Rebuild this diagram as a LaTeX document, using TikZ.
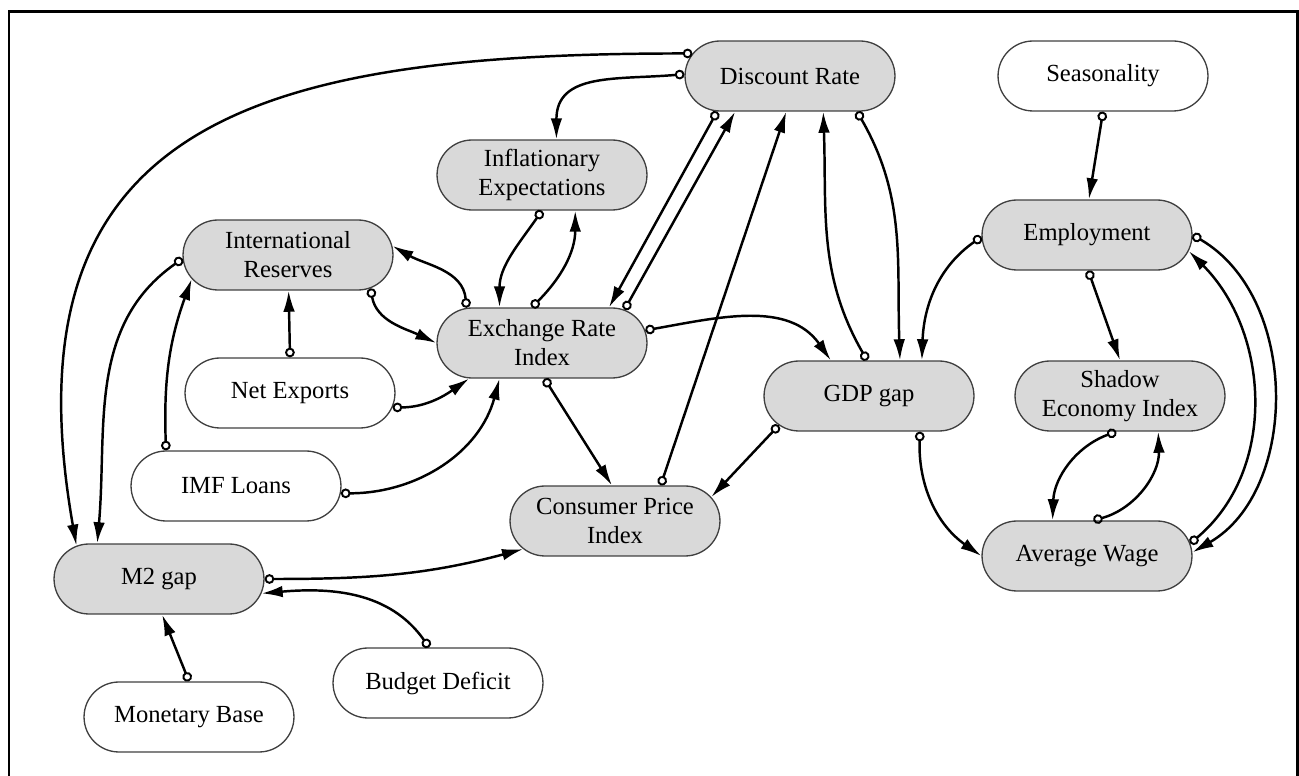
\documentclass[tikz,border=0pt]{standalone}
\usepackage{fontspec}
\setmainfont{Liberation Serif}
\usetikzlibrary{shapes.misc,arrows.meta}

\begin{document}
\begin{tikzpicture}[x=0.02cm,y=-0.02cm,
    block/.style={rounded rectangle,draw=black!75,line width=0.75pt,minimum width=4.34cm,minimum height=1.4cm,
        align=center,inner sep=2pt,font=\fontsize{14}{16.5}\selectfont},
    endo/.style={block,fill=black!15},
    exo/.style={block,fill=white},
    link/.style={{Circle[open,length=5.5pt,line width=1.1pt]}-{Latex[length=12pt,width=6.6pt]},line width=1.4pt}]
    \useasboundingbox (0,0) rectangle (1299,776);
    \draw[line width=1.7pt] (9,776) -- (9,11.5) -- (1297,11.5) -- (1297,776);

    \node[endo] (dr) at (790,76) {Discount Rate};
    \node[exo] (seas) at (1103,76) {Seasonality};
    \node[endo] (ie) at (542,175) {Inflationary\\Expectations};
    \node[endo] (ir) at (288,255) {International\\Reserves};
    \node[endo] (emp) at (1087,235) {Employment};
    \node[endo] (eri) at (542,343) {Exchange Rate\\Index};
    \node[exo] (nx) at (290,393) {Net Exports};
    \node[endo] (gdp) at (869,396) {GDP gap};
    \node[endo] (sei) at (1120,396) {Shadow\\Economy Index};
    \node[exo] (imf) at (236,486) {IMF Loans};
    \node[endo] (cpi) at (615,521) {Consumer Price\\Index};
    \node[endo] (m2) at (159,579) {M2 gap};
    \node[endo] (aw) at (1087,556) {Average Wage};
    \node[exo] (bd) at (438,683) {Budget Deficit};
    \node[exo] (mb) at (189,717) {Monetary Base};

    \draw[link] (dr.167) to[out=180,in=100,looseness=1.4] (m2.158);
    \draw[link] (dr.179) to[out=185,in=90,looseness=1.2] (ie.68);
    \draw[link] (ir.182) to[out=215,in=85] (m2.150);
    \draw[link] (imf.153) to[out=92,in=250] (ir.194);
    \draw[link] (nx.90) -- (ir.-89);
    \draw[link] (eri.155) to[out=95,in=-30] (ir.5);
    \draw[link] (ir.-22) to[out=-80,in=155] (eri.180);
    \draw[link] (nx.-8) to[out=0,in=215] (eri.206);
    \draw[link] (imf.-4) to[out=0,in=-105] (eri.220);
    \draw[link] (ie.-90) to[out=-125,in=90] (eri.140);
    \draw[link] (eri.106) to[out=45,in=-90] (ie.-47);
    \draw[link] (dr.206) -- (eri.28);
    \draw[link] (eri.22) -- (dr.213);
    \draw[link] (eri.7) to[out=10,in=125] (gdp.137);
    \draw[link] (eri.-86) -- (cpi.95);
    \draw[link] (cpi.38) -- (dr.-96);
    \draw[link] (gdp.93) to[out=120,in=-88] (dr.-47);
    \draw[link] (dr.-28) to[out=-60,in=92] (gdp.49);
    \draw[link] (emp.181) to[out=215,in=88] (gdp.34);
    \draw[link] (gdp.198) -- (cpi.14);
    \draw[link] (gdp.-35) to[out=-92,in=145] (aw.180);
    \draw[link] (seas.-90) -- (emp.87);
    \draw[link] (emp.-88) -- (sei.90);
    \draw[link] (sei.-96) to[out=200,in=88] (aw.134);
    \draw[link] (aw.80) to[out=15,in=-88] (sei.-43);
    \draw[link] (emp.0) to[out=-30,in=30] (aw.2);
    \draw[link] (aw.7) to[out=40,in=-45] (emp.-9);
    \draw[link] (m2.0) to[out=0,in=195] (cpi.197);
    \draw[link] (bd.104) to[out=125,in=5] (m2.-8);
    \draw[link] (mb.90) -- (m2.-85);
\end{tikzpicture}
\end{document}
